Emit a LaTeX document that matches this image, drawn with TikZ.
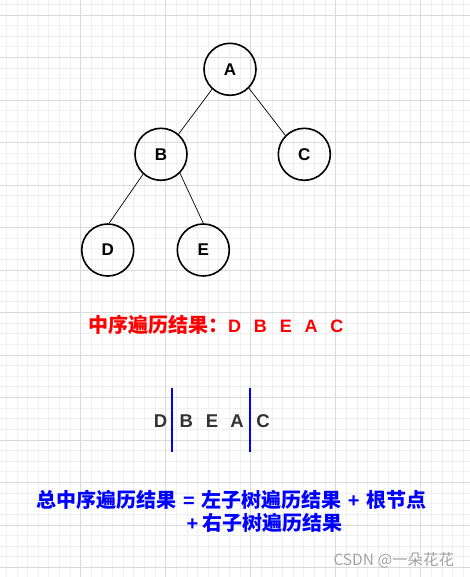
\documentclass[tikz,border=0pt]{standalone}
\usepackage{fontspec}
\setmainfont{Liberation Sans}
\newfontfamily\cjk{Noto Sans CJK SC}
\usetikzlibrary{positioning}

\definecolor{minorgray}{HTML}{EFEFEF}
\definecolor{majorgray}{HTML}{DADADA}
\definecolor{lettergray}{HTML}{333333}
\definecolor{markgray}{HTML}{A3A3A3}

\newcommand{\op}[1]{{\rmfamily\hspace{6.5pt}#1\hspace{6.5pt}}}

\begin{document}
\begin{tikzpicture}[x=1pt,y=-1pt,
	treenode/.style={circle, draw=black, line width=1.6pt, minimum size=52pt, inner sep=0pt, font=\fontsize{17}{20}\selectfont\bfseries},
	treeedge/.style={black, line width=0.7pt},
	seqletter/.style={text=lettergray, inner sep=0pt, font=\fontsize{18.5}{21}\selectfont\bfseries},
	splitline/.style={blue, line width=1.8pt},
	ruletext/.style={anchor=west, inner sep=0pt, text=blue, font=\cjk\fontsize{20}{24}\selectfont\bfseries}]

	\fill[white] (0,0) rectangle (470,577);
	\useasboundingbox (0,0) rectangle (470,577);

	% grid
	\foreach \i in {-7,...,36}
		\draw[minorgray, line width=0.8pt] ({80.7+\i*10.625},0) -- ({80.7+\i*10.625},577);
	\foreach \i in {-1,...,52}
		\draw[minorgray, line width=0.8pt] (0,{15+\i*10.625}) -- (470,{15+\i*10.625});
	\foreach \j in {0,...,4}
		\draw[majorgray, line width=0.8pt] ({80.7+\j*85},0) -- ({80.7+\j*85},577);
	\foreach \j in {0,...,13}
		\draw[majorgray, line width=0.8pt] (0,{15+\j*42.5}) -- (470,{15+\j*42.5});

	% tree
	\node[treenode] (A) at (230,69.3) {A};
	\node[treenode] (B) at (161,154.3) {B};
	\node[treenode] (C) at (304.3,154.3) {C};
	\node[treenode] (D) at (107.7,250) {D};
	\node[treenode] (E) at (203.3,250) {E};

	\draw[treeedge] (A.-132) -- (B.49);
	\draw[treeedge] (A.-45) -- (C.135);
	\draw[treeedge] (B.-132) -- (D.87);
	\draw[treeedge] (B.-45) -- (E.north);

	% in-order result
	\node[anchor=base west, inner sep=0pt, text=red, font=\fontsize{18}{21}\selectfont\bfseries] (inorder) at (88,332.7)
		{{\cjk\fontsize{20}{24}\selectfont 中序遍历结果：}D\hspace{12.8pt}B\hspace{12.8pt}E\hspace{12.8pt}A\hspace{12.8pt}C};

	% split of the sequence
	\node[seqletter] (sD) at (160.5,421.5) {D};
	\node[seqletter] (sB) at (186.2,421.5) {B};
	\node[seqletter] (sE) at (212,421.5) {E};
	\node[seqletter] (sA) at (237,421.5) {A};
	\node[seqletter] (sC) at (263,421.5) {C};

	\draw[splitline] (171.7,388.3) -- (171.7,451.7);
	\draw[splitline] (250.3,388.3) -- (250.3,451.7);

	% rule
	\node[ruletext] (rule1) at (36.5,500)
		{总中序遍历结果\op{=}左子树遍历结果\op{+}根节点};
	\node[ruletext] (rule2) at (186.5,523)
		{{\rmfamily +\hspace{4pt}}右子树遍历结果};

	\node[anchor=west, inner sep=0pt, text=markgray, font=\cjk\fontsize{15.5}{18}\selectfont] (mark) at (333.3,560)
		{CSDN @一朵花花};

\end{tikzpicture}
\end{document}
